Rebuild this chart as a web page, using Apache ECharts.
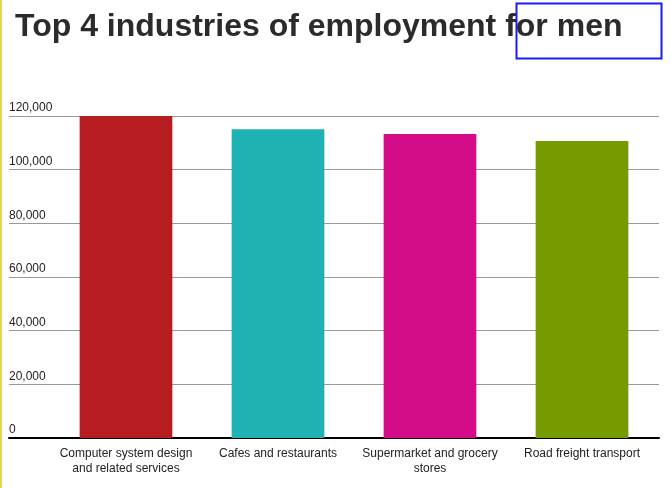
<!DOCTYPE html>
<html><head><meta charset="utf-8">
<script src="https://cdn.jsdelivr.net/npm/echarts@6/dist/echarts.min.js"></script>
<style>html,body{margin:0;padding:0;background:#fff}#c{width:671px;height:488px}</style>
</head><body><div id="c"></div>
<script>
const categories = ['Computer system design\nand related services', 'Cafes and restaurants', 'Supermarket and grocery\nstores', 'Road freight transport'];
const values = [122500, 115100, 113300, 110700];
const colors = ['#b71c20', '#20b2b2', '#d50c87', '#769b00'];

const chart = echarts.init(document.getElementById('c'));
chart.setOption({
  animation: false,
  title: {
    text: 'Top 4 industries of employment for men',
    left: 10, top: 6,
    textStyle: {fontFamily: 'Liberation Sans', fontSize: 32, fontWeight: 'bold', color: '#2b2b2b'}
  },
  grid: [
    {left: 9, right: 12, top: 116, bottom: 50},
    {left: 50, right: 13, top: 116, bottom: 50}
  ],
  xAxis: [
    {type: 'value', gridIndex: 0, show: true, axisLabel: {show: false}, axisTick: {show: false}, splitLine: {show: false},
     axisLine: {show: true, lineStyle: {color: '#000', width: 2}}},
    {type: 'category', gridIndex: 1, data: categories,
     axisLine: {show: false}, axisTick: {show: false},
     axisLabel: {color: '#222', fontSize: 12, fontFamily: 'Liberation Sans', interval: 0, margin: 8, lineHeight: 15}}
  ],
  yAxis: [
    {type: 'value', gridIndex: 0, min: 0, max: 120000, interval: 20000,
     axisLine: {show: false}, axisTick: {show: false},
     splitLine: {lineStyle: {color: '#999', width: 1}},
     axisLabel: {inside: true, margin: 0, verticalAlign: 'bottom', color: '#222', fontSize: 12, fontFamily: 'Liberation Sans', padding: [0, 0, 2, 0]}},
    {type: 'value', gridIndex: 1, min: 0, max: 120000, show: false}
  ],
  series: [{
    type: 'bar', xAxisIndex: 1, yAxisIndex: 1, barWidth: '61%',
    data: values.map((v, i) => ({value: v, itemStyle: {color: colors[i]}}))
  }],
  graphic: [
    {type: 'rect', left: 0, top: 0, shape: {width: 2, height: 488}, style: {fill: '#e3d64c'}},
    {type: 'rect', left: 514, top: 1, shape: {width: 145, height: 55}, style: {fill: 'none', stroke: '#1a1aff', lineWidth: 2}}
  ]
});
</script></body></html>
